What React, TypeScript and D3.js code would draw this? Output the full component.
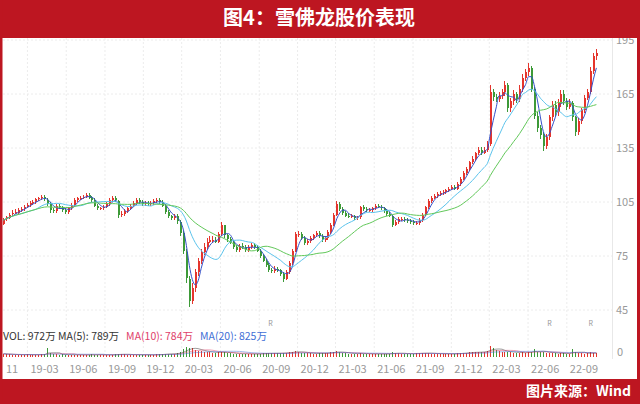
import React from "react";
import * as d3 from "d3";

const startDate = new Date(2019, 0, 2);
const endDate = new Date(2022, 10, 14);

const opens = [
  93, 95.5, 96, 98.5, 99.5, 99, 100.5, 101, 102.5, 103.5,
  104.5, 105, 106.5, 107, 108, 106, 104, 100.5, 100, 103,
  102, 100.5, 99.5, 101.5, 103.5, 106, 107, 107.5, 108, 109,
  107.5, 106, 103, 101.5, 101.5, 102.5, 104, 106, 107.5, 105.5,
  98, 98.5, 100, 101.5, 103, 104.5, 106, 105, 104, 104.5,
  104, 104.5, 105.5, 106, 105, 103, 99.5, 97, 96, 97.5,
  94, 88, 77, 62, 50, 57, 66, 72, 77, 80,
  83, 84, 84, 83, 87, 92, 86.5, 84.5, 83, 80,
  78.5, 80.5, 80, 78.5, 80, 81, 80, 78, 75, 72.5,
  70, 67, 66.5, 68, 67, 65, 62.5, 66, 71, 78,
  87, 87.5, 85, 82, 83.5, 85, 86.5, 88, 86, 84,
  85, 88.5, 92.5, 98, 104, 101, 99, 97.5, 97, 97,
  96, 96.5, 102, 101, 100.5, 100.5, 101.5, 103, 102.5, 101.5,
  100, 98.5, 97.5, 92.5, 94, 95.5, 95.5, 95, 94.5, 94,
  93.5, 93.5, 95, 98, 102, 105.5, 107.5, 108.5, 109.5, 110,
  110.5, 111.5, 112.5, 113.5, 112.5, 115, 118, 121, 123.5, 127,
  129, 132, 134, 132.5, 134, 137, 166, 163.5, 162.5, 164,
  166, 170, 157, 161, 165, 162, 168, 174, 177, 179.5,
  168, 153, 146, 142, 136, 141, 152, 159, 155, 160,
  165, 161, 158, 160, 152, 144, 150, 156, 163, 166,
  178, 186,
];

const highs = [
  96, 97.5, 99, 100.5, 101, 101.5, 102.5, 103.5, 104.5, 105.5,
  106, 107.5, 108, 109, 109, 107, 105, 101.5, 104, 104,
  103, 101.5, 102.5, 104.5, 107, 108, 108.5, 109, 110, 110,
  108.5, 107, 104, 102.5, 103.5, 105, 107, 108.5, 108.5, 106,
  100, 101, 102.5, 104, 105.5, 107, 107, 106, 105.5, 105.5,
  105.5, 106.5, 107, 107, 106, 104, 100.5, 98, 98.5, 98.5,
  95, 89, 79, 64, 60, 68, 74, 79, 82, 85,
  86, 86, 85.5, 88.5, 94, 92.5, 87.5, 85.5, 84, 81,
  81.5, 82, 81, 81, 82, 82, 81, 79, 76, 73.5,
  71, 68.5, 69.5, 69, 68, 66, 67, 72, 79, 88.5,
  89, 88.5, 86, 84.5, 86, 87.5, 89, 89, 87, 86,
  89.5, 93.5, 99, 105.5, 105, 102, 100, 99, 98.5, 98,
  97.5, 103, 103.5, 102, 101.5, 102.5, 104, 104, 103.5, 102.5,
  101, 99.5, 98, 95, 96.5, 96.5, 96.5, 96, 95.5, 95,
  94.5, 96, 99, 103, 106.5, 108.5, 109.5, 110.5, 111, 111.5,
  112.5, 113.5, 114.5, 114.5, 116, 119, 122, 124.5, 128, 130.5,
  133, 135.5, 135.5, 135.5, 139, 170, 168, 165, 166, 168,
  172, 171, 163, 167, 166, 170, 176, 179, 182, 180.5,
  169, 155, 148, 144, 143, 153.5, 161, 161, 162, 167,
  167, 163, 162, 161, 153, 151.5, 157.5, 164.5, 168, 180,
  188, 190,
];

const lows = [
  92, 94.5, 95.5, 97.5, 98.5, 98, 99.5, 100, 101.5, 102.5,
  103.5, 104, 105.5, 106, 105.5, 103, 99, 99, 99, 101,
  99.5, 98.5, 98.5, 100.5, 102.5, 105, 106, 106.5, 107, 106.5,
  105, 102, 100.5, 100.5, 100.5, 101.5, 103, 105, 105, 96,
  96.5, 97.5, 99, 100.5, 102, 103.5, 104, 103, 103, 103,
  103, 103.5, 104.5, 104, 102, 98.5, 96, 95, 95, 93,
  86, 76, 60, 46.5, 48.5, 55, 64, 70.5, 75.5, 79,
  82, 82.5, 82, 82, 86, 85, 83, 81.5, 79, 77,
  77.5, 79, 77.5, 77.5, 79, 79, 77, 74, 71.5, 69,
  66, 65.5, 65.5, 66, 64, 60.5, 61.5, 65, 70, 77,
  85.5, 84, 81, 81, 82.5, 84, 85.5, 85, 83, 83,
  84, 87.5, 91.5, 97, 100, 98, 96.5, 96, 96, 95,
  95, 95.5, 100, 99.5, 99.5, 99.5, 100.5, 101.5, 100.5, 99,
  97.5, 96.5, 91, 91.5, 93, 94.5, 94, 93.5, 93, 92.5,
  92.5, 92.5, 94, 97, 101, 104.5, 106.5, 107.5, 108.5, 109,
  109.5, 110.5, 111.5, 111.5, 111.5, 114, 117, 120, 122, 126,
  128, 131, 131, 131.5, 133, 136, 161, 160.5, 160.5, 162,
  164, 155, 155, 159, 160, 160.5, 166, 172, 175, 166,
  151, 144, 140, 133.5, 134.5, 139.5, 150, 153, 153, 158,
  159, 156, 156.5, 150, 141.5, 142.5, 148.5, 154.5, 161.5, 165,
  176, 184,
];

const closes = [
  95, 96.5, 98, 99, 99.5, 100.5, 101, 102.5, 103.5, 104.5,
  105, 106.5, 107, 108, 106.5, 104, 100.5, 100, 103, 102,
  100.5, 99.5, 101.5, 103.5, 106, 107, 107.5, 108, 109, 107.5,
  106, 103, 101.5, 101.5, 102.5, 104, 106, 107.5, 106, 98,
  98.5, 100, 101.5, 103, 104.5, 106, 105, 104, 104.5, 104,
  104.5, 105.5, 106, 105, 103, 99.5, 97, 96, 97.5, 94.5,
  88, 78, 63, 50, 57, 66, 72, 77, 80, 83,
  84, 84, 83, 87, 92, 86.5, 84.5, 83, 80, 78.5,
  80.5, 80, 78.5, 80, 81, 80, 78, 75, 72.5, 70,
  67, 66.5, 68, 67, 65, 62.5, 66, 71, 78, 87,
  87.5, 85, 82, 83.5, 85, 86.5, 88, 86, 84, 85,
  88.5, 92.5, 98, 104, 101, 99, 97.5, 97, 97, 96,
  96.5, 102, 101, 100.5, 100.5, 101.5, 103, 102.5, 101.5, 100,
  98.5, 97.5, 92.5, 94, 95.5, 95.5, 95, 94.5, 94, 93.5,
  93.5, 95, 98, 102, 105.5, 107.5, 108.5, 109.5, 110, 110.5,
  111.5, 112.5, 113.5, 112.5, 115, 118, 121, 123.5, 127, 129,
  132, 134, 132.5, 134, 137, 166, 163.5, 162.5, 164, 166,
  170, 157, 161, 165, 162, 168, 174, 177, 179.5, 168,
  153, 146, 142, 136, 141, 152, 159, 155, 160, 165,
  161, 158, 160, 152, 144, 150, 156, 163, 166, 178,
  186, 188,
];

// average daily volume per week, in 万 shares
const volumes = [
  900, 750, 700, 650, 600, 650, 620, 600, 700, 650,
  600, 620, 650, 700, 750, 2600, 1000, 800, 700, 650,
  700, 650, 600, 600, 650, 550, 600, 550, 600, 650,
  700, 650, 600, 650, 600, 550, 600, 650, 700, 900,
  800, 700, 650, 600, 600, 650, 600, 550, 600, 650,
  550, 600, 700, 750, 800, 900, 950, 850, 900, 1100,
  1500, 2200, 2800, 2600, 2400, 2000, 1800, 1600, 1500, 1400,
  1300, 1200, 1100, 1300, 1500, 1300, 1100, 1000, 950, 900,
  900, 850, 900, 850, 800, 850, 900, 950, 1000, 1050,
  1100, 1000, 1000, 1050, 1100, 1200, 1200, 1300, 1500, 1700,
  1400, 1200, 1100, 1000, 1000, 950, 900, 1000, 1050, 1100,
  1200, 1300, 1500, 1600, 1300, 1100, 1000, 950, 900, 950,
  900, 1000, 950, 900, 850, 800, 850, 900, 850, 800,
  900, 950, 1300, 1100, 1000, 900, 850, 900, 950, 900,
  1000, 1100, 1200, 1100, 1000, 950, 900, 900, 850, 900,
  850, 800, 900, 950, 1000, 1100, 1150, 1200, 1300, 1350,
  1400, 1300, 1400, 1500, 1800, 3000, 2600, 2000, 1700, 1500,
  1400, 1500, 1300, 1200, 1100, 1200, 1300, 1200, 1300, 1500,
  2200, 1400, 1300, 1500, 1200, 1200, 1100, 1000, 950, 1000,
  1000, 900, 950, 2200, 1300, 1100, 1000, 950, 1000, 1300,
  1100, 972,
];

const priceTicks = [195, 165, 135, 105, 75, 45];
const timeTickDates = [
  "2019-01-02", "2019-03-01", "2019-06-01", "2019-09-01", "2019-12-01",
  "2020-03-01", "2020-06-01", "2020-09-01", "2020-12-01", "2021-03-01",
  "2021-06-01", "2021-09-01", "2021-12-01", "2022-03-01", "2022-06-01", "2022-09-01",
];
const timeTickLabels = [
  "11", "19-03", "19-06", "19-09", "19-12", "20-03", "20-06", "20-09", "20-12",
  "21-03", "21-06", "21-09", "21-12", "22-03", "22-06", "22-09",
];
const rMarkerDates = ["2020-09-28", "2022-07-22", "2022-10-28"];

const maLines = [
  { n: 4, color: "#3450c8" },
  { n: 12, color: "#5bc3ec" },
  { n: 24, color: "#62c85a" },
];
const volMa = [
  { n: 5, color: "#333333" },
  { n: 10, color: "#e0406a" },
  { n: 20, color: "#3f6fd6" },
];

const volLegend = [
  { text: "VOL: 972万 MA(5): 789万", color: "#333333" },
  { text: "MA(10): 784万", color: "#e0406a" },
  { text: "MA(20): 825万", color: "#3f6fd6" },
];

const RED = "#BD1621";
const UP = "#e5352d";
const DOWN = "#3d9a38";
const FONT = "'Noto Sans CJK SC', 'Noto Sans', sans-serif";

function movingAvg(arr: number[], n: number): number[] {
  return arr.map((_, i) => d3.mean(arr.slice(Math.max(0, i - n + 1), i + 1)) as number);
}

export default function App() {
  const parse = d3.timeParse("%Y-%m-%d");
  const dates = closes.map((_, i) => d3.timeDay.offset(startDate, 7 * i));
  const x = d3.scaleTime().domain([startDate, endDate]).range([3, 598]);
  const y = d3.scaleLinear().domain([45, 195]).range([310, 40]);
  const yv = d3.scaleLinear().domain([0, 3600]).range([357, 344]);

  const tickXs = timeTickDates.map((d) => x(parse(d) as Date));

  return (
    <svg
      width={640}
      height={404}
      style={{ position: "absolute", left: 0, top: 0, fontFamily: FONT }}
    >
      <rect x={0} y={0} width={640} height={404} fill="#fff" />
      {/* vertical grid */}
      {tickXs.slice(1).map((tx, i) => (
        <line key={"vg" + i} x1={tx} x2={tx} y1={38} y2={359} stroke="#ececec" strokeDasharray="2,2" />
      ))}
      {/* horizontal grid */}
      {priceTicks.map((t) => (
        <line key={"hg" + t} x1={3} x2={612} y1={y(t)} y2={y(t)} stroke="#ececec" strokeDasharray="2,2" />
      ))}
      <line x1={612.5} x2={612.5} y1={38} y2={359} stroke="#e8e8e8" />

      {/* candles */}
      <g shapeRendering="crispEdges">
        {closes.map((c, i) => {
          const o = opens[i];
          const cx = Math.round(x(dates[i]));
          const col = c >= o ? UP : DOWN;
          const top = y(Math.max(o, c));
          const h = Math.max(1, Math.abs(y(o) - y(c)));
          return (
            <g key={"c" + i}>
              <line x1={cx + 0.5} x2={cx + 0.5} y1={y(highs[i])} y2={y(lows[i])} stroke={col} strokeWidth={1} />
              <rect x={cx - 0.5} y={top} width={2} height={h} fill={col} />
            </g>
          );
        })}
      </g>

      {/* moving averages */}
      {maLines.map((m) => {
        const ma = movingAvg(closes, m.n);
        const path = d3
          .line<number>()
          .x((_, i) => x(dates[i]) + 0.5)
          .y((v) => y(v))
          .curve(d3.curveMonotoneX)(ma);
        return <path key={"ma" + m.n} d={path || ""} fill="none" stroke={m.color} strokeWidth={1} />;
      })}

      {/* R markers */}
      {rMarkerDates.map((d) => (
        <text key={"r" + d} x={x(parse(d) as Date)} y={326} fontSize={7} fill="#999" textAnchor="middle">
          R
        </text>
      ))}

      {/* volume legend */}
      <text x={3} y={340} fontSize={10.5}>
        {volLegend.map((l, i) => (
          <tspan key={"vl" + i} fill={l.color} dx={i === 0 ? 0 : 7}>
            {l.text}
          </tspan>
        ))}
      </text>

      {/* volume bars */}
      <g shapeRendering="crispEdges">
        {volumes.map((v, i) => {
          const cx = Math.round(x(dates[i]));
          const col = closes[i] >= opens[i] ? UP : DOWN;
          return <rect key={"v" + i} x={cx} y={yv(v)} width={1} height={yv(0) - yv(v)} fill={col} />;
        })}
      </g>
      {volMa.map((m) => {
        const ma = movingAvg(volumes, m.n);
        const path = d3
          .line<number>()
          .x((_, i) => x(dates[i]) + 0.5)
          .y((v) => yv(v))(ma);
        return <path key={"vm" + m.n} d={path || ""} fill="none" stroke={m.color} strokeWidth={0.6} opacity={0.8} />;
      })}
      <text x={617} y={yv(0) - 4} fontSize={11} fill="#999" dominantBaseline="middle">
        0
      </text>

      {/* right price axis labels */}
      {priceTicks.map((t) => (
        <text key={"pt" + t} x={616} y={y(t) + 1} fontSize={11} fill="#999" dominantBaseline="middle">
          {t}
        </text>
      ))}

      {/* bottom axis labels */}
      {timeTickLabels.map((l, i) => (
        <text key={"tl" + i} x={tickXs[i] + 3} y={373} fontSize={11} fill="#999">
          {l}
        </text>
      ))}

      {/* frame */}
      <rect x={0} y={0} width={640} height={38} fill={RED} />
      <text x={319} y={20} fontSize={20} fontWeight="bold" fill="#fff" textAnchor="middle" dominantBaseline="middle">
        图4：雪佛龙股价表现
      </text>
      <rect x={0} y={379} width={640} height={25} fill={RED} />
      <text x={631} y={392} fontSize={14} fontWeight="bold" fill="#fff" textAnchor="end" dominantBaseline="middle">
        图片来源：Wind
      </text>
      <rect x={0} y={0} width={2.5} height={404} fill={RED} />
      <rect x={637} y={0} width={3} height={404} fill={RED} />
    </svg>
  );
}
